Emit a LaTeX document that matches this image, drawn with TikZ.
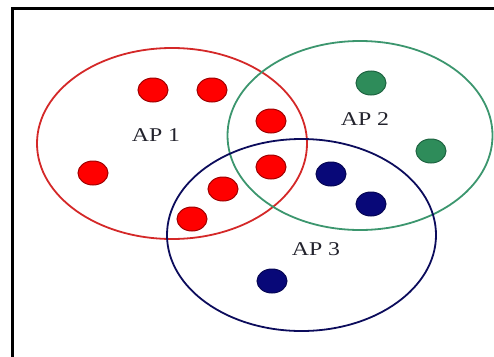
\documentclass[tikz,border=0pt]{standalone}
\usepackage{fontspec}
\setmainfont{Liberation Serif}
\usetikzlibrary{shapes.geometric}
\definecolor{redline}{RGB}{212,40,40}
\definecolor{greenline}{RGB}{60,150,110}
\definecolor{blueline}{RGB}{12,12,92}
\definecolor{reddot}{RGB}{255,0,0}
\definecolor{reddotb}{RGB}{160,0,0}
\definecolor{greendot}{RGB}{46,140,90}
\definecolor{greendotb}{RGB}{30,100,65}
\definecolor{bluedot}{RGB}{8,8,120}
\definecolor{textgray}{RGB}{35,35,45}
\tikzset{
  cell/.style={ellipse, line width=1.8pt, inner sep=0pt},
  dot/.style={ellipse, minimum width=30pt, minimum height=24pt, inner sep=0pt, line width=1pt},
  rdot/.style={dot, fill=reddot, draw=reddotb},
  gdot/.style={dot, fill=greendot, draw=greendotb},
  bdot/.style={dot, fill=bluedot, draw=bluedot!70!black},
  aplabel/.style={text=textgray, font=\fontsize{19.5}{19.5}\selectfont, inner sep=0pt}
}
\begin{document}
\begin{tikzpicture}[x=1pt,y=-1pt]
\useasboundingbox (0,0) rectangle (494,356);
\clip (0,0) rectangle (494,356);
\draw[line width=3pt] (12.5,360) -- (12.5,8.5) -- (500,8.5);
\node[cell, draw=redline, minimum width=270pt, minimum height=191pt] (c1) at (172,143.5) {};
\node[cell, draw=greenline, minimum width=265pt, minimum height=189pt] (c2) at (360,135.5) {};
\node[cell, draw=blueline, minimum width=269pt, minimum height=192pt] (c3) at (301.5,235) {};
\node[aplabel] (l1) at (156,135) {\scalebox{1.22}[1]{AP 1}};
\node[aplabel] (l2) at (365,119) {\scalebox{1.22}[1]{AP 2}};
\node[aplabel] (l3) at (316,249) {\scalebox{1.22}[1]{AP 3}};
\node[rdot] (r1) at (153,90) {};
\node[rdot] (r2) at (212,90) {};
\node[rdot] (r3) at (271,121) {};
\node[rdot] (r4) at (93,173) {};
\node[rdot] (r5) at (271,167) {};
\node[rdot] (r6) at (223,189) {};
\node[rdot] (r7) at (192,219) {};
\node[gdot] (g1) at (371,83) {};
\node[gdot] (g2) at (431,151) {};
\node[bdot] (b1) at (331,174) {};
\node[bdot] (b2) at (371,204) {};
\node[bdot] (b3) at (272,281) {};
\end{tikzpicture}
\end{document}
